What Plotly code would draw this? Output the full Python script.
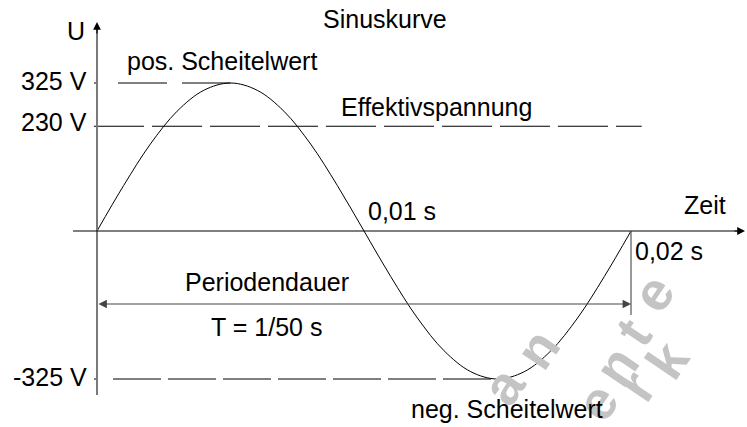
import plotly.graph_objects as go

# sine curve (time in ms, voltage in V)
time_ms = [0, 1, 2, 3, 4, 5, 6, 7, 8, 9, 10, 11, 12, 13, 14, 15, 16, 17, 18, 19, 20]
volts = [0, 100, 191, 263, 309, 325, 309, 263, 191, 100, 0,
         -100, -191, -263, -309, -325, -309, -263, -191, -100, 0]

# reference levels
level_values = [325, 230, -325]
level_labels = ["325 V", "230 V", "-325 V"]
level_end_ms = [5, 20.4, 15]

# pixel <-> data scale of the drawing
MS_PER_PX = 20 / 534
V_PER_PX = 325 / 148
X0_PX, Y0_PX = 97, 231
W, H = 747, 427

FONT = "Liberation Sans, Arial, sans-serif"


def px(x):
    return x / W


def py(y):
    return 1 - y / H


fig = go.Figure()

# dashed level lines
dash_styles = [
    "4px,20px,49px,15px,52px,40px",
    ",".join(["50px,8px"] * 14),
    "4px,15px," + ",".join(["48px,7px"] * 10),
]
for v, end, d in zip(level_values, level_end_ms, dash_styles):
    fig.add_trace(go.Scatter(
        x=[-3 * MS_PER_PX, end], y=[v, v], mode="lines",
        line=dict(color="black", width=1.2, dash=d), hoverinfo="skip"
    ))

# the sine wave
fig.add_trace(go.Scatter(
    x=time_ms, y=volts, mode="lines",
    line=dict(color="black", width=1, shape="spline", smoothing=1.0),
    hoverinfo="skip"
))

x_lo = -X0_PX * MS_PER_PX
x_hi = (W - X0_PX) * MS_PER_PX
y_hi = Y0_PX * V_PER_PX
y_lo = -(H - Y0_PX) * V_PER_PX

shapes = [
    # y axis (gray)
    dict(type="line", x0=0, x1=0, y0=-164 * V_PER_PX, y1=204 * V_PER_PX,
         line=dict(color="#7a7a7a", width=2)),
    # x axis
    dict(type="line", x0=-24 * MS_PER_PX, x1=640 * MS_PER_PX, y0=0, y1=0,
         line=dict(color="black", width=1.2)),
    # end of period marker
    dict(type="line", x0=20, x1=20, y0=0, y1=-84 * V_PER_PX,
         line=dict(color="#555555", width=1.2)),
]

annotations = [
    # axis arrow heads
    dict(x=0, y=209 * V_PER_PX, ax=0, ay=196 * V_PER_PX, xref="x", yref="y",
         axref="x", ayref="y", text="", showarrow=True, arrowhead=2,
         arrowsize=1.3, arrowwidth=1.2, arrowcolor="black"),
    dict(x=648 * MS_PER_PX, y=0, ax=636 * MS_PER_PX, ay=0, xref="x", yref="y",
         axref="x", ayref="y", text="", showarrow=True, arrowhead=2,
         arrowsize=1.3, arrowwidth=1.2, arrowcolor="black"),
    # Periodendauer double arrow
    dict(x=20, y=-73 * V_PER_PX, ax=0, ay=-73 * V_PER_PX, xref="x", yref="y",
         axref="x", ayref="y", text="", showarrow=True, arrowhead=2,
         startarrowhead=2, arrowside="end+start", arrowsize=1.4,
         startarrowsize=1.4, arrowwidth=1.2, arrowcolor="#444444"),
]

# faint watermark, one letter at a time (wide letter spacing)
watermark = [
    ("a", 503, 386), ("n", 537, 349),
    ("e", 597, 402), ("n", 616, 366), ("t", 633, 332), ("e", 653, 293),
    ("r", 636, 386), ("k", 667, 360),
]
for t, x, y in watermark:
    annotations.append(dict(
        x=px(x), y=py(y), xref="paper", yref="paper", text=t,
        showarrow=False, textangle=-56, xanchor="center", yanchor="middle",
        font=dict(family="Liberation Sans, Arial", size=54, color="#c4c4c4",
                  weight="bold")
    ))

texts = [
    ("U", 76, 31, "center"),
    ("Sinuskurve", 385, 19, "center"),
    ("pos. Scheitelwert", 222, 61, "center"),
    ("Effektivspannung", 436, 107, "center"),
    ("0,01 s", 402, 211, "center"),
    ("Zeit", 705, 205, "center"),
    ("0,02 s", 669, 251, "center"),
    ("Periodendauer", 267, 282, "center"),
    ("T = 1/50 s", 266, 327, "center"),
    ("neg. Scheitelwert", 507, 409, "center"),
]
for t, x, y, anchor in texts:
    annotations.append(dict(
        x=px(x), y=py(y), xref="paper", yref="paper", text=t, showarrow=False,
        xanchor=anchor, yanchor="middle", font=dict(family=FONT, size=25, color="black")
    ))

# voltage labels on the y axis
label_y_px = [81, 122, 377]
for lab, y in zip(level_labels, label_y_px):
    annotations.append(dict(
        x=px(89), y=py(y), xref="paper", yref="paper", text=lab, showarrow=False,
        xanchor="right", yanchor="middle", font=dict(family=FONT, size=25, color="black")
    ))

fig.update_layout(
    width=W, height=H, autosize=False,
    margin=dict(l=0, r=0, t=0, b=0, pad=0),
    paper_bgcolor="white", plot_bgcolor="white",
    showlegend=False,
    xaxis=dict(range=[x_lo, x_hi], visible=False, fixedrange=True),
    yaxis=dict(range=[y_lo, y_hi], visible=False, fixedrange=True),
    shapes=shapes,
    annotations=annotations,
)

fig.write_html("out.html", config={"displayModeBar": False},
               post_script="document.body.style.margin='0';")
